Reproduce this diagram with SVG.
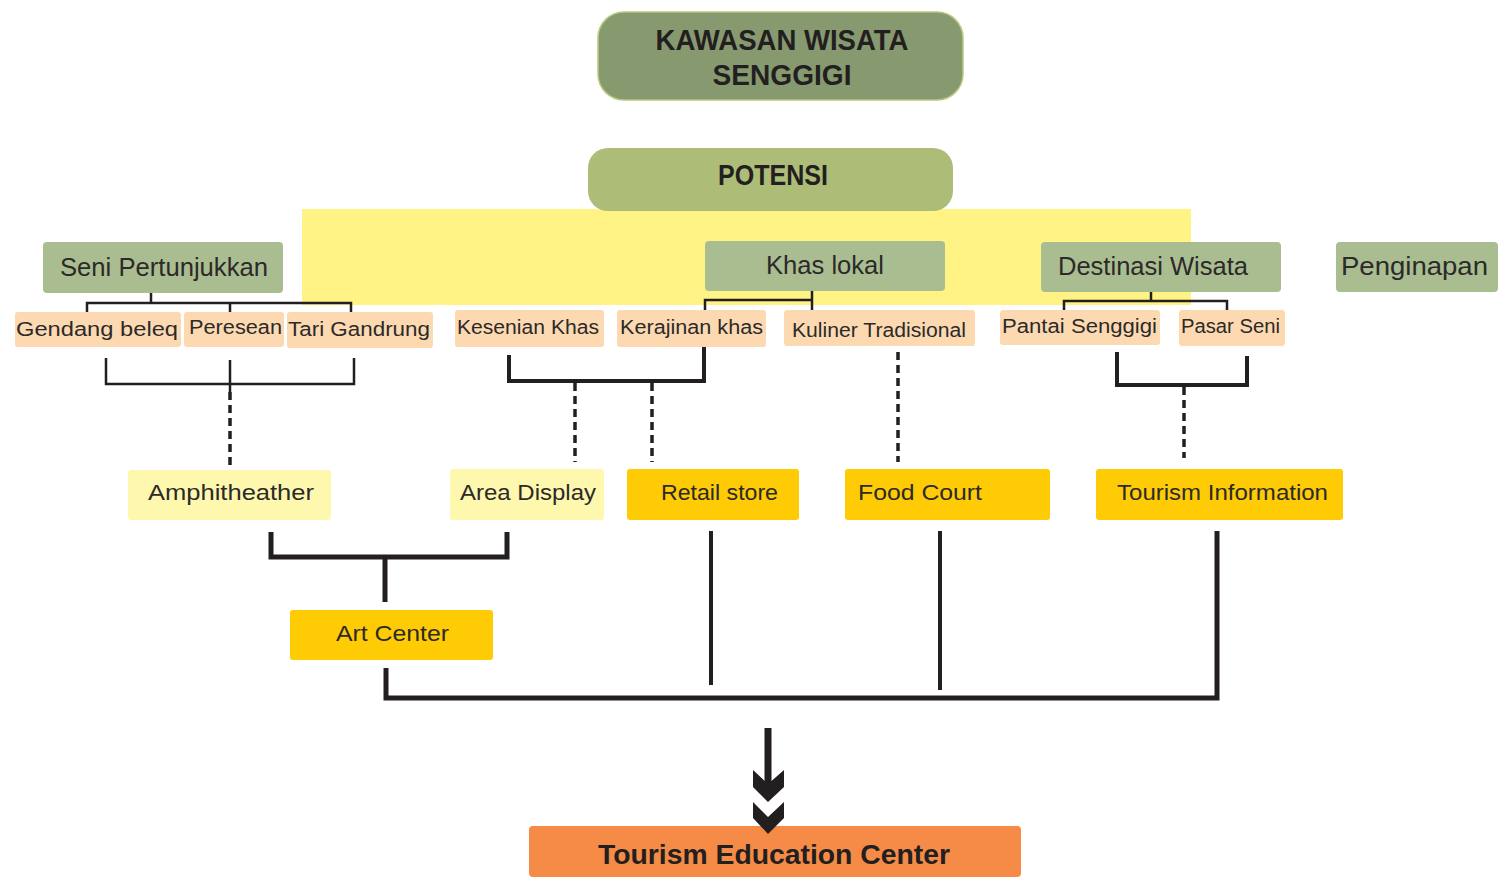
<svg xmlns="http://www.w3.org/2000/svg" width="1507" height="892" viewBox="0 0 1507 892">
<style>
text{font-family:"Liberation Sans","DejaVu Sans",sans-serif;fill:#2b2a29}
.b{font-weight:bold;fill:#231f20}
.h{font-size:25px}
.s{font-size:20px}
.m{font-size:22px}
.green{fill:#aabd91}
.peach{fill:#fdd9b2}
.ly{fill:#fef7ae}
.gold{fill:#fecb05}
.ln{fill:none;stroke:#231f20;stroke-width:2.5}
.ln4{fill:none;stroke:#231f20;stroke-width:4}
.ln5{fill:none;stroke:#231f20;stroke-width:5}
.dash{fill:none;stroke:#231f20;stroke-width:3.5;stroke-dasharray:8 5}
</style>
<rect width="1507" height="892" fill="#ffffff"/>
<rect x="302" y="209" width="889" height="96" fill="#fff385"/>
<g id="kawasan">
<rect x="598" y="12" width="365" height="88" rx="26" fill="#87996f" stroke="#b8c97e" stroke-width="1.5"/>
<text class="b" x="782" y="50" font-size="29" text-anchor="middle" textLength="253" lengthAdjust="spacingAndGlyphs">KAWASAN WISATA</text>
<text class="b" x="782" y="85" font-size="29" text-anchor="middle" textLength="139" lengthAdjust="spacingAndGlyphs">SENGGIGI</text>
</g>
<g id="potensi">
<rect x="588" y="148" width="365" height="63" rx="20" fill="#adbd78"/>
<text class="b" x="773" y="185" font-size="29" text-anchor="middle" textLength="110" lengthAdjust="spacingAndGlyphs">POTENSI</text>
</g>
<g id="seni"><rect class="green" x="43" y="242" width="240" height="51" rx="4"/><text class="h" x="60" y="276" textLength="208" lengthAdjust="spacingAndGlyphs">Seni Pertunjukkan</text></g>
<g id="khas"><rect class="green" x="705" y="241" width="240" height="50" rx="4"/><text class="h" x="766" y="274" textLength="118" lengthAdjust="spacingAndGlyphs">Khas lokal</text></g>
<g id="destinasi"><rect class="green" x="1041" y="242" width="240" height="50" rx="4"/><text class="h" x="1058" y="275" textLength="190" lengthAdjust="spacingAndGlyphs">Destinasi Wisata</text></g>
<g id="penginapan"><rect class="green" x="1336" y="242" width="162" height="50" rx="4"/><text class="h" x="1341" y="275" textLength="147" lengthAdjust="spacingAndGlyphs">Penginapan</text></g>
<g id="gendang"><rect class="peach" x="15" y="312" width="166" height="35" rx="3"/><text class="s" x="16" y="336" textLength="162" lengthAdjust="spacingAndGlyphs">Gendang beleq</text></g>
<g id="peresean"><rect class="peach" x="184" y="312" width="100" height="35" rx="3"/><text class="s" x="189" y="334" textLength="93" lengthAdjust="spacingAndGlyphs">Peresean</text></g>
<g id="tari"><rect class="peach" x="287" y="312" width="146" height="36" rx="3"/><text class="s" x="288" y="336" textLength="142" lengthAdjust="spacingAndGlyphs">Tari Gandrung</text></g>
<g id="kesenian"><rect class="peach" x="455" y="310" width="149" height="37" rx="3"/><text class="s" x="457" y="334" textLength="142" lengthAdjust="spacingAndGlyphs">Kesenian Khas</text></g>
<g id="kerajinan"><rect class="peach" x="617" y="310" width="149" height="37" rx="3"/><text class="s" x="620" y="334" textLength="143" lengthAdjust="spacingAndGlyphs">Kerajinan khas</text></g>
<g id="kuliner"><rect class="peach" x="784" y="310" width="191" height="36" rx="3"/><text class="s" x="792" y="337" textLength="174" lengthAdjust="spacingAndGlyphs">Kuliner Tradisional</text></g>
<g id="pantai"><rect class="peach" x="1000" y="310" width="160" height="35" rx="3"/><text class="s" x="1002" y="333" textLength="155" lengthAdjust="spacingAndGlyphs">Pantai Senggigi</text></g>
<g id="pasar"><rect class="peach" x="1179" y="310" width="106" height="36" rx="3"/><text class="s" x="1181" y="333" textLength="99" lengthAdjust="spacingAndGlyphs">Pasar Seni</text></g>
<g id="amphi"><rect class="ly" x="128" y="470" width="203" height="50" rx="3"/><text class="m" x="148" y="500" textLength="166" lengthAdjust="spacingAndGlyphs">Amphitheather</text></g>
<g id="area"><rect class="ly" x="450" y="469" width="154" height="51" rx="3"/><text class="m" x="460" y="500" textLength="136" lengthAdjust="spacingAndGlyphs">Area Display</text></g>
<g id="retail"><rect class="gold" x="627" y="469" width="172" height="51" rx="3"/><text class="m" x="661" y="500" textLength="117" lengthAdjust="spacingAndGlyphs">Retail store</text></g>
<g id="food"><rect class="gold" x="845" y="469" width="205" height="51" rx="3"/><text class="m" x="858" y="500" textLength="124" lengthAdjust="spacingAndGlyphs">Food Court</text></g>
<g id="tourism-info"><rect class="gold" x="1096" y="469" width="247" height="51" rx="3"/><text class="m" x="1117" y="500" textLength="211" lengthAdjust="spacingAndGlyphs">Tourism Information</text></g>
<g id="art"><rect class="gold" x="290" y="610" width="203" height="50" rx="3"/><text class="m" x="336" y="641" textLength="113" lengthAdjust="spacingAndGlyphs">Art Center</text></g>
<g id="tec"><rect x="529" y="826" width="492" height="51" rx="4" fill="#f58b47"/><text class="b" x="598" y="864" font-size="28" textLength="352" lengthAdjust="spacingAndGlyphs">Tourism Education Center</text></g>
<g id="connectors">
<path class="ln" d="M151 293V303M87 312V303H351V312M230 303V312"/>
<path class="ln" d="M812 291V310M705 310V300H812"/>
<path class="ln" d="M1151 292V301M1064 310V301H1227V310"/>
<path class="ln" d="M106 358V384H354V358M230 360V392"/>
<path class="ln4" d="M509 355V381H704V347"/>
<path class="ln4" d="M1117 352V385H1247V356"/>
<path class="dash" d="M230 392V470"/>
<path class="dash" d="M575 383V462M652 383V462"/>
<path class="dash" d="M898 352V462"/>
<path class="dash" d="M1184 387V458"/>
<path class="ln5" d="M271 532V557H507V532M385 557V602"/>
<path class="ln5" d="M386 668V698H1217V531"/>
<path class="ln4" d="M711 531V685M940 531V690"/>
<path d="M768 728V790" stroke="#231f20" stroke-width="7" fill="none"/>
<polygon points="753,770 768,784 784,770 784,787 768,802 753,787" fill="#231f20"/>
<polygon points="753,802 768,817 784,802 784,818 768,834 753,818" fill="#231f20"/>
</g>
</svg>
